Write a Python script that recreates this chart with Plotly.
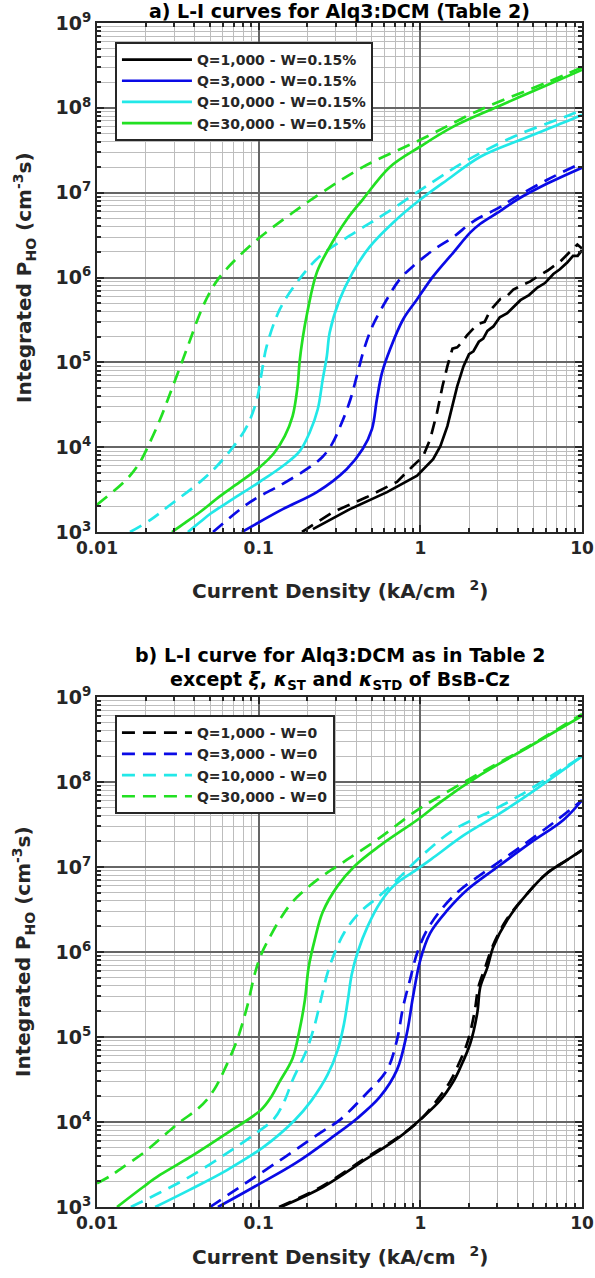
import plotly.graph_objects as go

# ---------------- Panel a: L-I curves for Alq3:DCM (Table 2) ----------------
# Q=1,000
a_q1k_w015_j = [0.2166, 0.367, 0.622, 0.955, 1.2, 1.33, 1.47, 1.58, 1.69, 1.85, 2.0, 2.13, 2.3, 2.45, 2.6,
                2.83, 3.1, 3.45, 3.8, 4.16, 4.7, 5.3, 5.9, 6.65, 7.3, 8.1, 8.8, 9.4, 10]
a_q1k_w015_p = [1.08e3, 1.86e3, 2.95e3, 4.6e3, 7.2e3, 1.03e4, 1.77e4, 3.0e4, 5.2e4, 9.0e4, 1.25e5, 1.35e5, 1.75e5,
                1.9e5, 2.35e5, 2.65e5, 3.4e5, 3.8e5, 4.5e5, 5.4e5, 6.2e5, 7.6e5, 8.6e5, 1.1e6, 1.25e6, 1.5e6,
                1.8e6, 1.8e6, 2.1e6]
a_q1k_w0_j = [0.1854, 0.288, 0.467, 0.717, 0.9, 1.04, 1.15, 1.27, 1.37, 1.47, 1.58, 1.69, 1.8, 1.95, 2.25, 2.5,
              2.71, 3.13, 3.4, 3.76, 4.3, 4.79, 5.4, 6.1, 7.35, 8.47, 9.36, 10]
a_q1k_w0_p = [1e3, 1.72e3, 2.58e3, 3.9e3, 6.0e3, 7.8e3, 1.24e4, 2.58e4, 5.2e4, 9.0e4, 1.45e5, 1.5e5, 1.7e5,
              2.1e5, 2.8e5, 3.0e5, 4.1e5, 5.6e5, 5.9e5, 7.2e5, 8.2e5, 9.0e5, 1.05e6, 1.2e6, 1.55e6, 2.0e6, 2.45e6,
              2.2e6]
# Q=3,000
a_q3k_w015_j = [0.0788, 0.141, 0.229, 0.35, 0.44, 0.502, 0.539, 0.58, 0.649, 0.782, 0.953, 1.2, 1.6, 2.04, 2.35,
                3.13, 3.98, 6.1, 10]
a_q3k_w015_p = [1e3, 1.86e3, 2.95e3, 5.5e3, 9.5e3, 1.63e4, 3.7e4, 7.6e4, 1.42e5, 3.2e5, 5.5e5, 1.03e6, 1.97e6,
                3.4e6, 4.3e6, 6.1e6, 8.3e6, 1.28e7, 1.97e7]
a_q3k_w0_j = [0.0522, 0.0884, 0.141, 0.198, 0.247, 0.285, 0.325, 0.37, 0.41, 0.452, 0.507, 0.62, 0.745, 0.898,
              1.2, 1.6, 2.13, 3.13, 3.76, 6.1, 10]
a_q3k_w0_p = [1e3, 2.25e3, 3.7e3, 5.5e3, 7.6e3, 1.1e4, 1.9e4, 3.7e4, 7.6e4, 1.5e5, 2.7e5, 5.5e5, 9.5e5, 1.35e6,
              2.1e6, 3.0e6, 4.6e6, 6.8e6, 8.5e6, 1.42e7, 2.25e7]
# Q=10,000
a_q10k_w015_j = [0.0365, 0.0434, 0.05, 0.0694, 0.1014, 0.141, 0.179, 0.207, 0.232, 0.249, 0.264, 0.275, 0.317,
                 0.382, 0.486, 0.675, 1.0, 1.47, 2.35, 4.16, 7.7, 10]
a_q10k_w015_p = [1e3, 1.31e3, 1.63e3, 2.45e3, 3.9e3, 6.0e3, 8.9e3, 1.5e4, 2.8e4, 6.3e4, 1.18e5, 2.25e5, 5.5e5,
                 1.15e6, 2.3e6, 4.4e6, 8.3e6, 1.42e7, 2.65e7, 4.2e7, 6.7e7, 8.3e7]
a_q10k_w0_j = [0.016, 0.0213, 0.0283, 0.0434, 0.0552, 0.0694, 0.0847, 0.0977, 0.1044, 0.112, 0.135, 0.172, 0.238,
               0.404, 0.62, 1.17, 1.98, 3.8, 7.8, 10]
a_q10k_w0_p = [1e3, 1.38e3, 2.08e3, 3.9e3, 6.0e3, 1.0e4, 1.77e4, 3.7e4, 7.6e4, 1.54e5, 4.2e5, 8.7e5, 1.77e6,
               3.5e6, 5.8e6, 1.31e7, 2.45e7, 4.6e7, 7.8e7, 9.5e7]
# Q=30,000
a_q30k_w015_j = [0.0291, 0.035, 0.0434, 0.0577, 0.0766, 0.1014, 0.125, 0.145, 0.162, 0.174, 0.179, 0.187, 0.2,
                 0.229, 0.275, 0.35, 0.44, 0.646, 1.0, 1.6, 3.0, 6.1, 10]
a_q30k_w015_p = [1e3, 1.28e3, 1.72e3, 2.65e3, 3.9e3, 5.8e3, 8.6e3, 1.35e4, 2.3e4, 5.2e4, 1.0e5, 1.9e5, 3.9e5,
                 1.15e6, 2.3e6, 4.8e6, 8.3e6, 2.0e7, 3.5e7, 6.0e7, 1.03e8, 1.86e8, 2.8e8]
a_q30k_w0_j = [0.01, 0.0153, 0.0183, 0.0213, 0.0245, 0.0275, 0.036, 0.0434, 0.0495, 0.056, 0.069, 0.098, 0.162,
               0.216, 0.44, 1.0, 2.35, 6.1, 10]
a_q30k_w0_p = [2.1e3, 4.2e3, 6.5e3, 1.15e4, 2.1e4, 3.7e4, 1.45e5, 3.8e5, 6.5e5, 9.5e5, 1.5e6, 2.8e6, 5.8e6, 8.5e6,
               2.0e7, 4.2e7, 9.5e7, 2.0e8, 3.0e8]

# ---------------- Panel b: as Table 2 except xi, kappa_ST, kappa_STD of BsB-Cz ----------------
b_q1k_w015_j = [0.137, 0.25, 0.455, 0.738, 1.02, 1.33, 1.6, 1.77, 2.04, 2.25, 2.35, 2.6, 2.83, 3.45, 4.6, 6.1,
                8.1, 10]
b_q1k_w015_p = [1e3, 1.72e3, 3.6e3, 6.6e3, 1.11e4, 1.81e4, 3.0e4, 4.4e4, 8.5e4, 1.92e5, 3.9e5, 6.6e5, 1.15e6,
                2.38e6, 4.9e6, 8.5e6, 1.21e7, 1.58e7]
b_q1k_w0_j = [0.1336, 0.243, 0.442, 0.727, 1.0, 1.27, 1.53, 1.69, 1.95, 2.16, 2.29, 2.52, 2.79, 3.4, 4.6, 6.1,
              8.1, 10]
b_q1k_w0_p = [1e3, 1.72e3, 3.6e3, 6.6e3, 1.06e4, 1.81e4, 3.0e4, 4.4e4, 8.5e4, 1.92e5, 3.9e5, 6.6e5, 1.15e6,
              2.38e6, 4.9e6, 8.5e6, 1.21e7, 1.58e7]
b_q3k_w015_j = [0.056, 0.0935, 0.17, 0.297, 0.406, 0.562, 0.717, 0.826, 0.9, 1.0, 1.15, 1.47, 1.95, 3.0, 4.79,
                7.7, 10]
b_q3k_w015_p = [1e3, 1.72e3, 3.3e3, 7.0e3, 1.1e4, 1.97e4, 4.1e4, 1.11e5, 2.95e5, 8.1e5, 1.67e6, 3.1e6, 5.4e6,
                1.0e7, 1.92e7, 3.6e7, 6.1e7]
b_q3k_w0_j = [0.05, 0.0835, 0.146, 0.239, 0.318, 0.455, 0.622, 0.717, 0.782, 0.863, 0.955, 1.1, 1.39, 1.77, 2.6,
              4.16, 7.05, 10]
b_q3k_w0_p = [1e3, 1.92e3, 3.9e3, 7.4e3, 1.06e4, 2.08e4, 4.1e4, 9.2e4, 2.25e5, 4.7e5, 9.7e5, 1.81e6, 3.4e6,
              5.4e6, 9.2e6, 1.72e7, 3.6e7, 6.1e7]
b_q10k_w015_j = [0.0229, 0.0371, 0.0637, 0.1074, 0.167, 0.213, 0.267, 0.308, 0.336, 0.356, 0.376, 0.41, 0.472,
                 0.569, 0.703, 0.898, 1.17, 1.87, 3.0, 4.6, 10]
b_q10k_w015_p = [1e3, 1.58e3, 2.72e3, 5.1e3, 1.05e4, 1.81e4, 3.6e4, 7.0e4, 1.38e5, 2.7e5, 5.4e5, 1.0e6, 2.0e6,
                 3.9e6, 6.3e6, 8.7e6, 1.24e7, 2.38e7, 4.1e7, 7.0e7, 2.0e8]
b_q10k_w0_j = [0.0162, 0.0242, 0.0371, 0.0637, 0.0964, 0.125, 0.145, 0.162, 0.198, 0.222, 0.242, 0.267, 0.295,
               0.34, 0.42, 0.545, 0.713, 1.0, 1.6, 2.83, 4.15, 10]
b_q10k_w0_p = [1e3, 1.46e3, 2.25e3, 4.3e3, 7.4e3, 1.1e4, 1.8e4, 3.1e4, 7.0e4, 1.38e5, 2.7e5, 5.7e5, 9.7e5,
               1.72e6, 2.9e6, 4.4e6, 7.0e6, 1.31e7, 2.72e7, 4.7e7, 7.0e7, 2.0e8]
b_q30k_w015_j = [0.0133, 0.0193, 0.0245, 0.0371, 0.0637, 0.103, 0.12, 0.135, 0.162, 0.179, 0.193, 0.204, 0.222,
                 0.249, 0.308, 0.393, 0.56, 1.0, 1.33, 2.35, 4.79, 10]
b_q30k_w015_p = [1e3, 1.72e3, 2.38e3, 3.8e3, 7.4e3, 1.38e4, 2.0e4, 3.0e4, 5.6e4, 1.21e5, 2.7e5, 6.7e5, 1.38e6,
                 2.95e6, 6.0e6, 1.03e7, 1.77e7, 3.8e7, 5.8e7, 1.21e8, 2.65e8, 6.0e8]
b_q30k_w0_j = [0.01, 0.012, 0.0145, 0.0193, 0.0245, 0.0326, 0.0415, 0.0486, 0.055, 0.0602, 0.0735, 0.0847, 0.095,
               0.104, 0.115, 0.135, 0.162, 0.229, 0.35, 0.56, 0.898, 1.2, 2.35, 4.79, 10]
b_q30k_w0_p = [1.9e3, 2.3e3, 2.95e3, 4.3e3, 6.3e3, 1.0e4, 1.4e4, 1.9e4, 2.7e4, 3.8e4, 9.2e4, 2.25e5, 5.7e5,
               9.5e5, 1.4e6, 2.4e6, 3.9e6, 7.0e6, 1.21e7, 2.2e7, 4.3e7, 6.1e7, 1.28e8, 2.7e8, 6.3e8]

labels_a = ["Q=1,000 - W=0.15%", "Q=3,000 - W=0.15%", "Q=10,000 - W=0.15%", "Q=30,000 - W=0.15%"]
labels_b = ["Q=1,000 - W=0", "Q=3,000 - W=0", "Q=10,000 - W=0", "Q=30,000 - W=0"]
x_tick_vals = [0.01, 0.1, 1, 10]
x_tick_text = ["0.01", "0.1", "1", "10"]
y_tick_vals = [1e3, 1e4, 1e5, 1e6, 1e7, 1e8, 1e9]
y_tick_text = ["10<sup>%d</sup>" % e for e in range(3, 10)]

colors = ["#000000", "#0a0ae6", "#22e8e8", "#22e022"]
FONT = "DejaVu Sans"
INK = "#262626"
DASH = "13px,8px"

fig = go.Figure()


def add(j, p, color, dash, name, showlegend, xa, ya, legend, group, shape="spline"):
    fig.add_trace(go.Scatter(
        x=j, y=p, mode="lines", name=name, showlegend=showlegend, legendgroup=group,
        line=dict(color=color, width=2.7, dash=dash, shape=shape, smoothing=1.0),
        xaxis=xa, yaxis=ya, legend=legend, hoverinfo="skip"))


panel_a = [(a_q1k_w015_j, a_q1k_w015_p, a_q1k_w0_j, a_q1k_w0_p),
           (a_q3k_w015_j, a_q3k_w015_p, a_q3k_w0_j, a_q3k_w0_p),
           (a_q10k_w015_j, a_q10k_w015_p, a_q10k_w0_j, a_q10k_w0_p),
           (a_q30k_w015_j, a_q30k_w015_p, a_q30k_w0_j, a_q30k_w0_p)]
panel_b = [(b_q1k_w015_j, b_q1k_w015_p, b_q1k_w0_j, b_q1k_w0_p),
           (b_q3k_w015_j, b_q3k_w015_p, b_q3k_w0_j, b_q3k_w0_p),
           (b_q10k_w015_j, b_q10k_w015_p, b_q10k_w0_j, b_q10k_w0_p),
           (b_q30k_w015_j, b_q30k_w015_p, b_q30k_w0_j, b_q30k_w0_p)]

for i, (sj, sp, dj, dp) in enumerate(panel_a):
    shp = "linear" if i == 0 else "spline"
    add(sj, sp, colors[i], "solid", labels_a[i], True, "x", "y", "legend", "a%d" % i, shp)
    add(dj, dp, colors[i], DASH, labels_a[i] + " W=0", False, "x", "y", "legend", "a%d" % i, shp)

for i, (sj, sp, dj, dp) in enumerate(panel_b):
    add(sj, sp, colors[i], "solid", labels_b[i] + " sol", False, "x2", "y2", "legend2", "b%d" % i)
    add(dj, dp, colors[i], DASH, labels_b[i], True, "x2", "y2", "legend2", "b%d" % i)

minor_x = [k * 10.0 ** e for e in (-2, -1, 0) for k in range(2, 10)]
minor_y = [k * 10.0 ** e for e in range(3, 9) for k in range(2, 10)]

common = dict(type="log", showline=True, linecolor=INK, linewidth=2, mirror="allticks",
              ticks="inside", ticklen=7, tickwidth=1.5, tickcolor=INK, automargin=False,
              showgrid=True, gridcolor="#666666", gridwidth=1.7, zeroline=False)


def xaxis(anchor):
    return dict(common, range=[-2, 1], tickvals=x_tick_vals, ticktext=x_tick_text, anchor=anchor,
                domain=[0, 1], tickfont=dict(family=FONT, size=17, color=INK, weight="bold"),
                minor=dict(tickmode="array", tickvals=minor_x, ticks="inside", ticklen=4,
                           tickcolor=INK, showgrid=True, gridcolor="#bdbdbd", gridwidth=1.4))


def yaxis(anchor, domain):
    return dict(common, range=[3, 9], tickvals=y_tick_vals, ticktext=y_tick_text, anchor=anchor,
                domain=domain, tickfont=dict(family=FONT, size=19, color=INK, weight="bold"),
                minor=dict(tickmode="array", tickvals=minor_y, ticks="inside", ticklen=4,
                           tickcolor=INK, showgrid=True, gridcolor="#bdbdbd", gridwidth=1.4))


legend_style = dict(xanchor="left", yanchor="top", bgcolor="white", bordercolor=INK, borderwidth=2,
                    font=dict(family=FONT, size=14, color=INK, weight="bold"), tracegroupgap=0,
                    itemwidth=70)

tfont = dict(family=FONT, size=20, color=INK, weight="bold")
titlefont = dict(family=FONT, size=19, color="#000000", weight="bold")

fig.update_layout(
    width=595, height=1278, margin=dict(l=97, r=13, t=23, b=71),
    paper_bgcolor="white", plot_bgcolor="white", showlegend=True,
    xaxis=xaxis("y"), yaxis=yaxis("x", [0.5701, 1.0]),
    xaxis2=xaxis("y2"), yaxis2=yaxis("x2", [0.0, 0.43074]),
    legend=dict(legend_style, x=0.037, y=0.984),
    legend2=dict(legend_style, x=0.037, y=0.4155),
    annotations=[
        dict(text="a) L-I curves for Alq3:DCM (Table 2)", x=0.5, y=1.0101, xref="paper", yref="paper",
             showarrow=False, xanchor="center", yanchor="middle", font=titlefont),
        dict(text="Current Density (kA/cm\u00a0\u00a0<sup>2</sup>)", x=0.5, y=0.5211, xref="paper",
             yref="paper", showarrow=False, xanchor="center", yanchor="middle", font=tfont),
        dict(text="Integrated P<sub>HO</sub> (cm<sup>-3</sup>s)", x=-0.1505, y=0.7846, xref="paper",
             yref="paper", showarrow=False, xanchor="center", yanchor="middle", textangle=-90, font=tfont),
        dict(text="b) L-I curve for Alq3:DCM as in Table 2", x=0.5, y=0.4662, xref="paper", yref="paper",
             showarrow=False, xanchor="center", yanchor="middle", font=titlefont),
        dict(text="except <i>\u03be</i>, <i>\u03ba</i><sub>ST</sub> and <i>\u03ba</i><sub>STD</sub> of BsB-Cz",
             x=0.5, y=0.4451, xref="paper", yref="paper",
             showarrow=False, xanchor="center", yanchor="middle", font=titlefont),
        dict(text="Current Density (kA/cm\u00a0\u00a0<sup>2</sup>)", x=0.5, y=-0.0414, xref="paper",
             yref="paper", showarrow=False, xanchor="center", yanchor="middle", font=tfont),
        dict(text="Integrated P<sub>HO</sub> (cm<sup>-3</sup>s)", x=-0.1505, y=0.2154, xref="paper",
             yref="paper", showarrow=False, xanchor="center", yanchor="middle", textangle=-90, font=tfont),
    ],
)

fig.write_html("out.html")
